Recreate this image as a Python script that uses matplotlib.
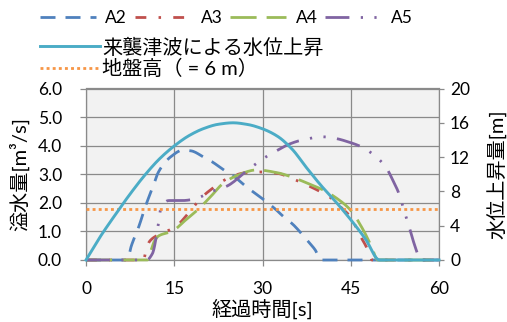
import matplotlib
matplotlib.use("Agg")
import numpy as np
import matplotlib.pyplot as plt
from matplotlib.ticker import FormatStrFormatter

plt.rcParams['font.family'] = ['Lato', 'Noto Sans CJK JP']

# Overflow discharge [m3/s] at the measuring points A2-A5, elapsed time [s]
t_a2 = [0, 7.0, 7.7, 9.1, 9.9, 11.6, 12.2, 13.3, 14.4, 16.4, 17.8, 20.3, 21.4, 23.4,
        24.8, 27.2, 29.5, 30.6, 32.3, 33.5, 35.2, 36.3, 37.7, 38.9, 40.0, 60]
q_a2 = [0, 0, 0.49, 1.24, 1.76, 2.69, 3.03, 3.38, 3.61, 3.84, 3.82, 3.56, 3.44, 3.15,
        2.98, 2.57, 2.22, 2.05, 1.76, 1.53, 1.24, 1.00, 0.66, 0.37, 0, 0]

t_a3 = [0, 9.8, 10.2, 10.8, 12.0, 13.0, 14.5, 15.6, 17.3, 18.8, 19.5, 21.4, 23.3, 24.9,
        27.0, 29.5, 32.6, 34.9, 36.3, 38.3, 40.3, 41.7, 43.3, 44.9, 45.7, 46.6, 47.6,
        48.3, 48.6, 60]
q_a3 = [0, 0, 0.36, 0.65, 0.85, 0.95, 1.08, 1.23, 1.61, 1.99, 2.16, 2.49, 2.77, 2.93,
        3.05, 3.08, 3.03, 2.86, 2.74, 2.55, 2.34, 2.16, 1.85, 1.52, 1.23, 0.85, 0.48,
        0.13, 0, 0]

t_a4 = [0, 10.4, 10.8, 11.6, 12.4, 14.6, 17.0, 19.1, 21.2, 23.2, 25.4, 29.0, 32.6, 34.6,
        38.3, 40.3, 43.4, 44.9, 47.1, 48.5, 49.6, 60]
q_a4 = [0, 0, 0.19, 0.65, 0.85, 1.00, 1.41, 1.78, 2.22, 2.66, 2.93, 3.15, 3.05, 2.93,
        2.63, 2.45, 2.04, 1.76, 1.06, 0.48, 0, 0]

t_a5 = [0, 10.3, 11.3, 12.2, 12.8, 14.1, 16.4, 18.4, 21.4, 24.0, 27.5, 30.6, 32.4, 34.5,
        36.6, 40.3, 42.5, 44.6, 46.8, 49.8, 51.2, 52.2, 53.1, 54.2, 54.9, 55.5, 56.2,
        56.8, 60]
q_a5 = [0, 0, 0.23, 1.12, 1.88, 2.08, 2.08, 2.13, 2.40, 2.59, 3.15, 3.61, 3.82, 4.05,
        4.19, 4.31, 4.25, 4.13, 3.96, 3.52, 3.17, 2.77, 2.37, 1.64, 1.18, 0.75, 0.31,
        0, 0]

# Water level rise of the incoming tsunami [m]
t_wave = [0, 2.5, 5, 7.5, 10, 12.5, 15, 17.5, 20, 22.5, 25, 27.5, 30, 32.5, 35, 37.5,
          40, 42.5, 45, 47.5, 49.9, 60]
h_wave = [0, 2.8, 5.3, 7.7, 9.9, 11.8, 13.3, 14.5, 15.33, 15.83, 16.0, 15.8, 15.3,
          14.45, 12.95, 10.75, 8.65, 6.75, 4.7, 2.45, 0, 0]

ground_level = 6  # m

series_labels = ['A2', 'A3', 'A4', 'A5']
wave_label = '来襲津波による水位上昇'
ground_label = '地盤高（ = 6 m）'

x_ticks = [0, 15, 30, 45, 60]
q_ticks = [0.0, 1.0, 2.0, 3.0, 4.0, 5.0, 6.0]
h_ticks = [0, 4, 8, 12, 16, 20]


def smooth_path(x, y, n=12):
    """Monotone cubic (PCHIP) curve through the points, for a smoothed line."""
    x = np.asarray(x, float)
    y = np.asarray(y, float)
    h = np.diff(x)
    delta = np.diff(y) / h
    d = np.zeros_like(y)
    for k in range(1, len(x) - 1):
        if delta[k - 1] * delta[k] > 0:
            w1 = 2 * h[k] + h[k - 1]
            w2 = h[k] + 2 * h[k - 1]
            d[k] = (w1 + w2) / (w1 / delta[k - 1] + w2 / delta[k])
    d[0] = delta[0]
    d[-1] = delta[-1]
    xs, ys = [], []
    for k in range(len(x) - 1):
        s = np.linspace(0, 1, n, endpoint=False)
        h00 = 2 * s**3 - 3 * s**2 + 1
        h10 = s**3 - 2 * s**2 + s
        h01 = -2 * s**3 + 3 * s**2
        h11 = s**3 - s**2
        xs.append(x[k] + s * h[k])
        ys.append(h00 * y[k] + h10 * h[k] * d[k] + h01 * y[k + 1] + h11 * h[k] * d[k + 1])
    xs.append([x[-1]])
    ys.append([y[-1]])
    return np.concatenate(xs), np.concatenate(ys)


grid_col = '#8a8a8a'
tick_fs = 12.5
jp_fs = 14.5

fig = plt.figure(figsize=(5.07, 3.22), dpi=100)
ax = fig.add_axes([86 / 507, 1 - 260 / 322, 353 / 507, 171.5 / 322])
ax.set_facecolor('#F2F2F2')
ax2 = ax.twinx()

styles = [
    dict(color='#4F81BD', dashes=(5.4, 3.6)),
    dict(color='#C0504D', dashes=(3.9, 4.4, 0.9, 4.4)),
    dict(color='#9BBB59', dashes=(9.4, 3.6)),
    dict(color='#8064A2', dashes=(8.6, 4.1, 0.8, 4.1, 0.8, 4.1)),
]
series = [(t_a2, q_a2), (t_a3, q_a3), (t_a4, q_a4), (t_a5, q_a5)]
q_lines = []
for (t, q), st in zip(series, styles):
    ln, = ax.plot(*smooth_path(t, q), lw=2.0, clip_on=False, zorder=3, **st)
    q_lines.append(ln)

wave_line, = ax2.plot(*smooth_path(t_wave, h_wave), color='#4BACC6', lw=2.1,
                      clip_on=False, zorder=4)
ground_line = ax2.axhline(ground_level, color='#F79646', lw=2.0,
                          dashes=(1.05, 1.15), zorder=3)

ax.set_xlim(0, 60)
ax.set_ylim(0, 6)
ax2.set_ylim(0, 20)
ax.set_xticks(x_ticks)
ax.set_yticks(q_ticks)
ax2.set_yticks(h_ticks)
ax.yaxis.set_major_formatter(FormatStrFormatter('%.1f'))

ax.grid(True, color=grid_col, lw=0.9)
ax.set_axisbelow(True)
for sp in ax.spines.values():
    sp.set_color(grid_col)
    sp.set_linewidth(0.9)
for sp in ax2.spines.values():
    sp.set_visible(False)

ax.tick_params(axis='y', length=4.2, width=0.9, color=grid_col, pad=13, labelsize=tick_fs)
ax.tick_params(axis='x', length=4.2, width=0.9, color=grid_col, pad=11, labelsize=tick_fs)
ax2.tick_params(axis='y', length=3.5, width=0.9, color=grid_col, pad=4.5, labelsize=tick_fs)

ax.set_xlabel('経過時間[s]', fontsize=jp_fs, va='center')
ax.xaxis.set_label_coords(0.5, -0.286)
ax.set_ylabel('溢水量[m³/s]', fontsize=jp_fs, va='center')
ax.yaxis.set_label_coords(-0.19, 0.5)
ax2.set_ylabel('水位上昇量[m]', fontsize=jp_fs, va='center', rotation=90)
ax2.yaxis.set_label_coords(1.164, 0.5)

fig.legend(handles=q_lines, labels=series_labels, ncol=4, loc='center left',
           bbox_to_anchor=(40 / 507, 1 - 18 / 322), frameon=False, fontsize=tick_fs,
           handlelength=3.2, handletextpad=0.57, columnspacing=0.45,
           borderpad=0, borderaxespad=0)
fig.legend(handles=[wave_line, ground_line], labels=[wave_label, ground_label], ncol=1,
           loc='center left', bbox_to_anchor=(40 / 507, 1 - 57.5 / 322), frameon=False,
           fontsize=jp_fs, handlelength=3.0, handletextpad=0.1, labelspacing=0.1,
           borderpad=0, borderaxespad=0)

fig.savefig('out.png', dpi=100)
